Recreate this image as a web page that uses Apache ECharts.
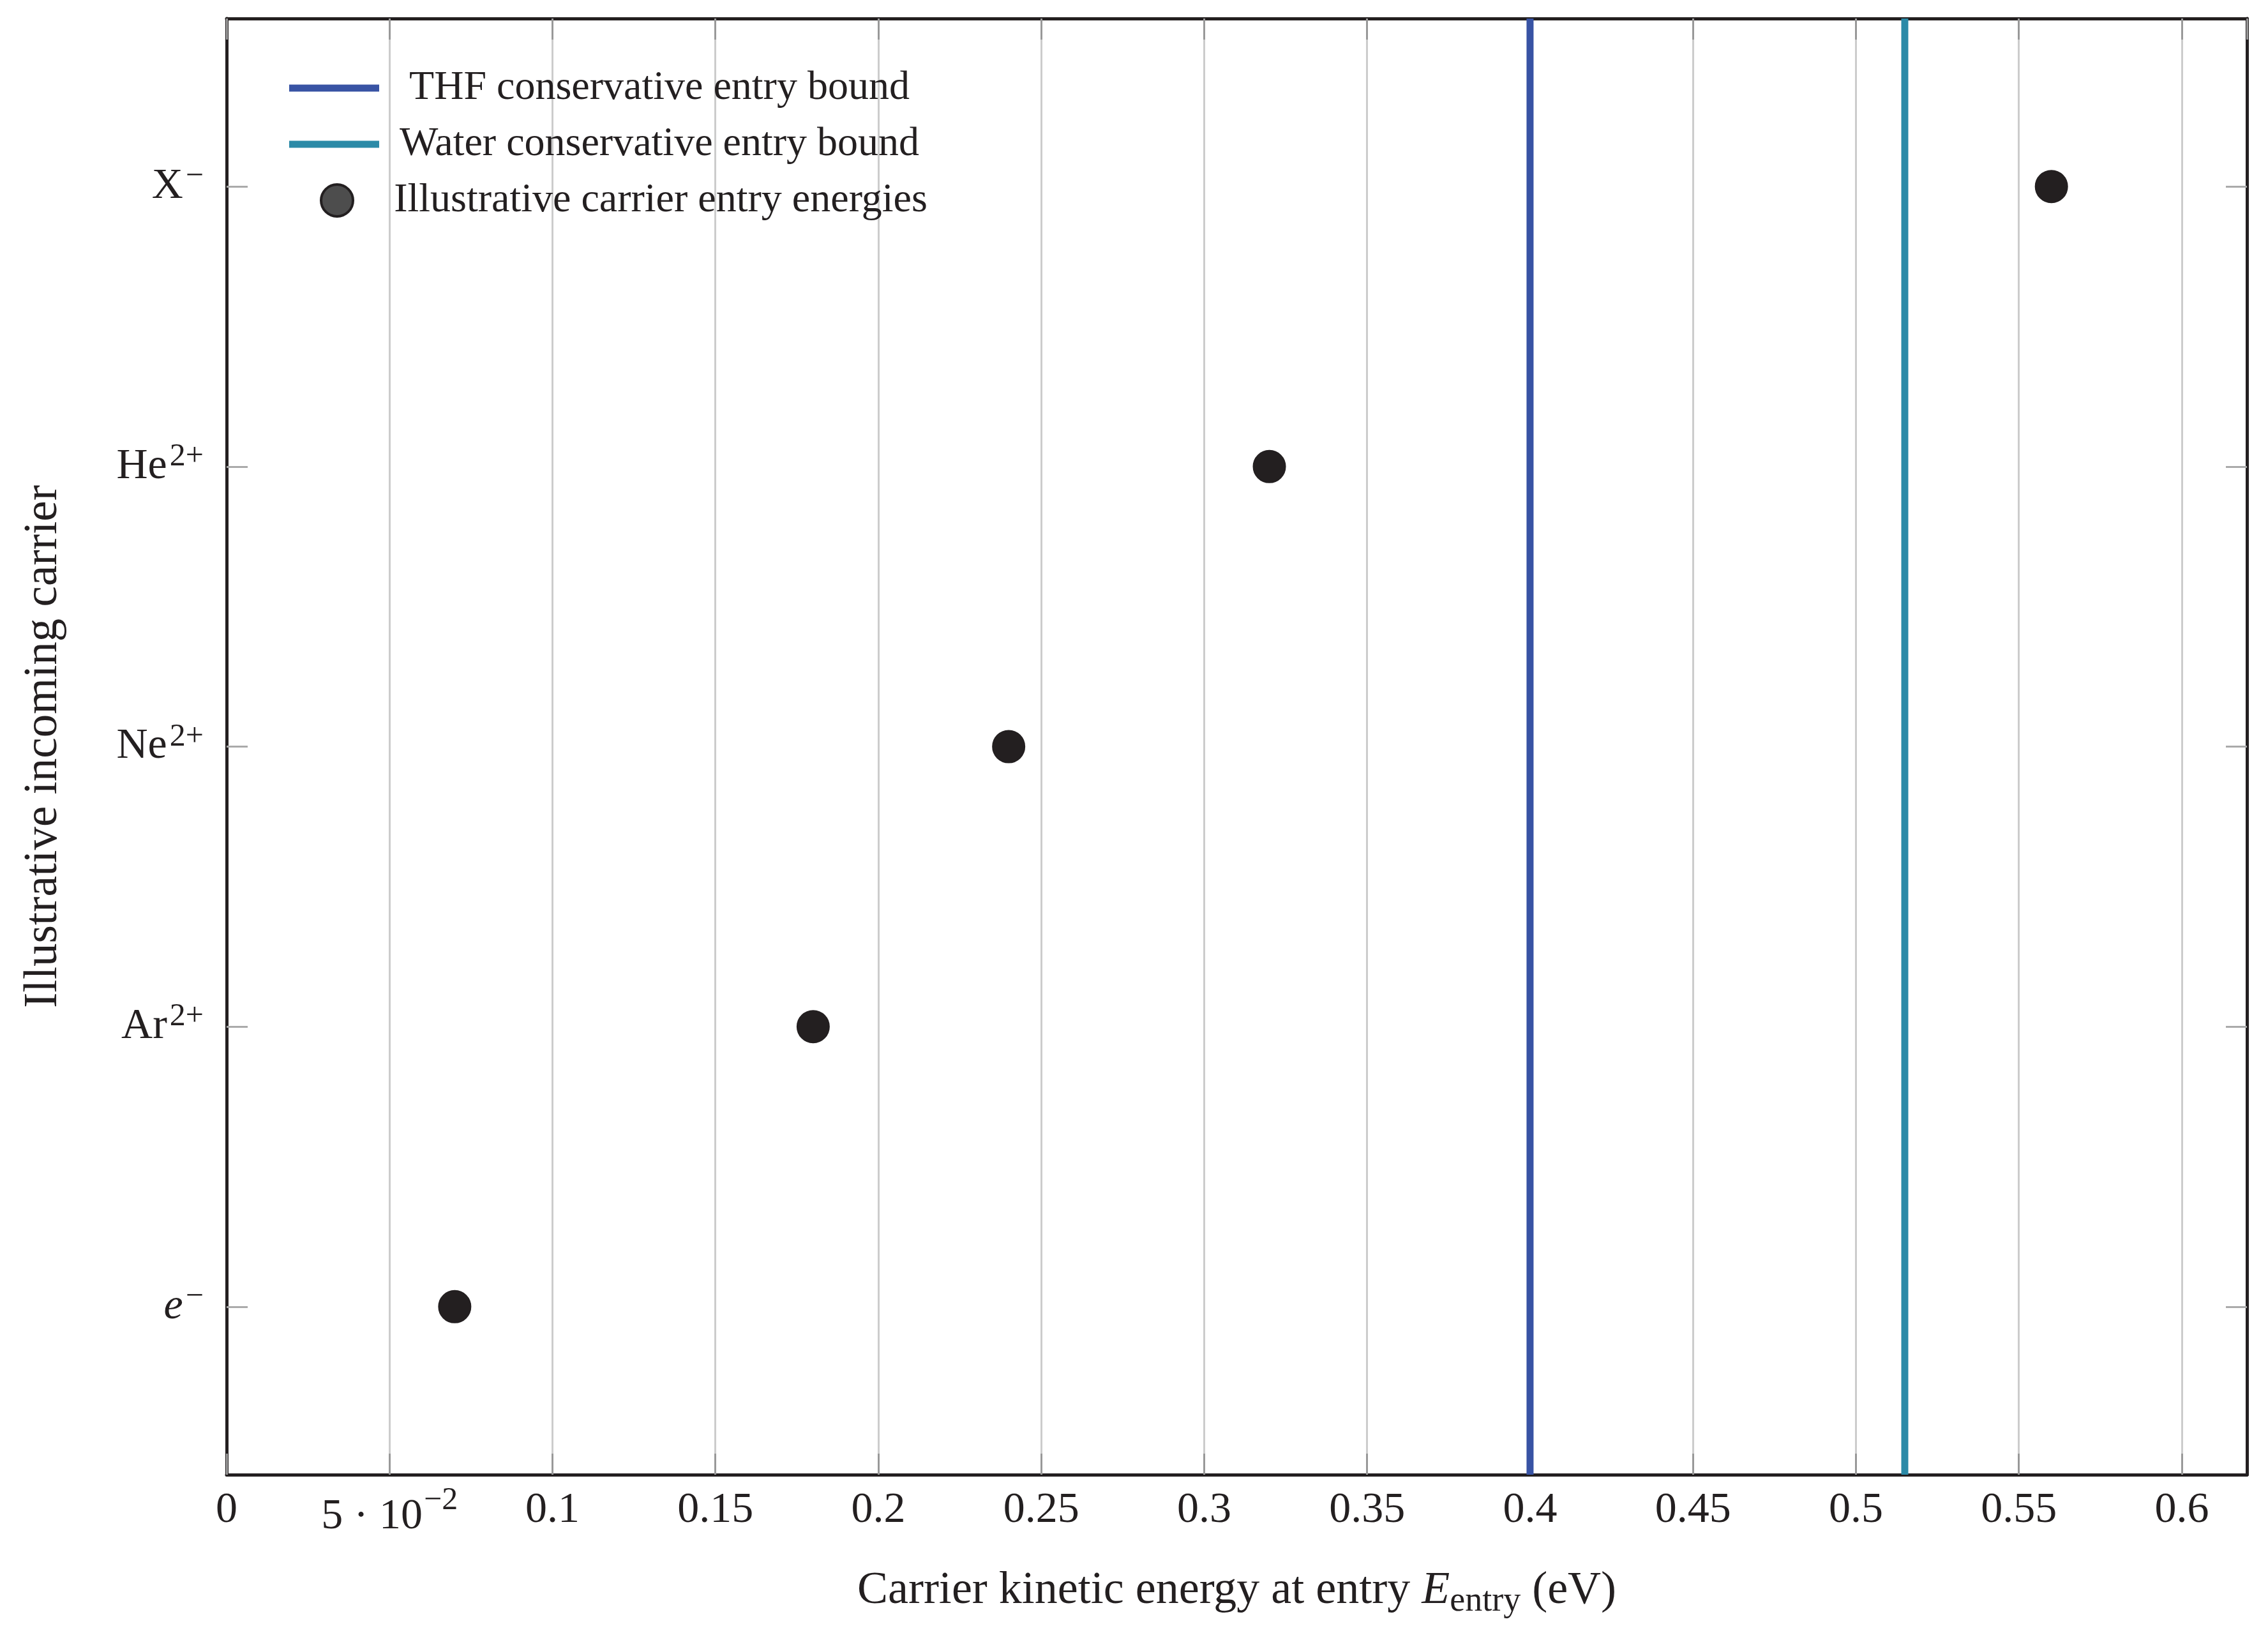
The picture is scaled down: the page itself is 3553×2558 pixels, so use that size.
<!DOCTYPE html>
<html>
<head>
<meta charset="utf-8">
<script src="https://cdn.jsdelivr.net/npm/echarts@6/dist/echarts.min.js"></script>
<style>
  html, body { margin: 0; padding: 0; background: #fff; }
  #main { width: 3553px; height: 2558px; }
</style>
</head>
<body>
<div id="main"></div>
<script>
// carriers from bottom to top
const carrierNames = ['e', 'Ar', 'Ne', 'He', 'X'];
const carrierCharge = ['−', '2+', '2+', '2+', '−'];
const carrierRow = [0, 1, 2, 3, 4];
const entryEnergy = [0.07, 0.18, 0.24, 0.32, 0.56];

const thfBound = 0.4;
const waterBound = 0.515;

const xMin = 0, xMax = 0.62, xStep = 0.05;
const yMin = -0.6, yMax = 4.6;

const ink = '#231f20';
const font = 'Liberation Serif';

function xLabel(v) {
    if (Math.abs(v - 0.05) < 1e-9) {
        return '{m|5 · 10}{t|−2}';
    }
    if (v > 0.6 + 1e-9) return '';
    return '{n|' + parseFloat(v.toFixed(2)) + '}';
}

function yLabel(v) {
    var i = carrierRow.indexOf(Math.round(v));
    if (i < 0) return '';
    var base = carrierNames[i] == 'e' ? '{i|e}' : '{n|' + carrierNames[i] + '}';
    return base + '{s|' + carrierCharge[i] + '}';
}

var labelRich = {
    n: { fontFamily: font, fontSize: 68, color: ink, lineHeight: 80 },
    i: { fontFamily: font, fontSize: 68, fontStyle: 'italic', color: ink, lineHeight: 80 },
    s: { fontFamily: font, fontSize: 50, color: ink, verticalAlign: 'top', lineHeight: 80, padding: [0, 0, 30, 4] },
    m: { fontFamily: font, fontSize: 68, color: ink, lineHeight: 80, padding: [20, 0, 0, 0] },
    t: { fontFamily: font, fontSize: 50, color: ink, verticalAlign: 'top', lineHeight: 80, padding: [0, 0, 14, 2] }
};

function legendBox(name, top, icon, left, symW, symH, textW, extra) {
    var item = { name: name, icon: icon };
    if (extra) item.itemStyle = extra;
    return {
        data: [item],
        left: left,
        top: top,
        padding: 0,
        itemWidth: symW,
        itemHeight: symH,
        selectedMode: false,
        formatter: '{c|{name}}',
        textStyle: {
            rich: {
                c: { fontFamily: font, fontSize: 64, color: ink, width: textW, align: 'center', lineHeight: 70 }
            }
        }
    };
}

var myChart = echarts.init(document.getElementById('main'));

var option = {
    animation: false,
    backgroundColor: '#fff',
    grid: { left: 355, right: 33, top: 29, bottom: 248, containLabel: false },
    legend: [
        legendBox('THF conservative entry bound', 106, 'rect', 453, 141, 11, 868),
        legendBox('Water conservative entry bound', 194, 'rect', 453, 141, 11, 868),
        legendBox('Illustrative carrier entry energies', 282, 'circle', 501, 50, 50, 954,
            { color: '#4d4d4d', borderColor: ink, borderWidth: 4 })
    ],
    xAxis: [
        {
            type: 'value',
            position: 'bottom',
            min: xMin, max: xMax, interval: xStep,
            name: '{n|Carrier kinetic energy at entry }{e|E}{b|entry}{n| (eV)}',
            nameLocation: 'middle',
            nameGap: 138,
            nameTextStyle: {
                rich: {
                    n: { fontFamily: font, fontSize: 72, color: ink, lineHeight: 88 },
                    e: { fontFamily: font, fontSize: 72, fontStyle: 'italic', color: ink, lineHeight: 88 },
                    b: { fontFamily: font, fontSize: 54, color: ink, verticalAlign: 'bottom', lineHeight: 88, padding: [24, 0, 0, 0] }
                }
            },
            axisLine: { show: true, onZero: false, lineStyle: { color: ink, width: 5 } },
            axisTick: { show: true, inside: true, length: 33, lineStyle: { color: '#999', width: 3 } },
            axisLabel: { margin: 16, formatter: xLabel, rich: labelRich, showMaxLabel: false },
            splitLine: { show: true, lineStyle: { color: '#cccccc', width: 3 } }
        },
        {
            type: 'value',
            position: 'top',
            min: xMin, max: xMax, interval: xStep,
            axisLine: { show: true, onZero: false, lineStyle: { color: ink, width: 5 } },
            axisTick: { show: true, inside: true, length: 33, lineStyle: { color: '#999', width: 3 } },
            axisLabel: { show: false },
            splitLine: { show: false }
        }
    ],
    yAxis: [
        {
            type: 'value',
            position: 'left',
            min: yMin, max: yMax,
            name: 'Illustrative incoming carrier',
            nameLocation: 'middle',
            nameGap: 250,
            nameTextStyle: { fontFamily: font, fontSize: 73, color: ink },
            axisLine: { show: true, onZero: false, lineStyle: { color: ink, width: 5 } },
            axisTick: { show: true, inside: true, length: 33, customValues: carrierRow, lineStyle: { color: '#aaa', width: 3 } },
            axisLabel: { margin: 36, customValues: carrierRow, formatter: yLabel, rich: labelRich },
            splitLine: { show: false }
        },
        {
            type: 'value',
            position: 'right',
            min: yMin, max: yMax,
            axisLine: { show: true, onZero: false, lineStyle: { color: ink, width: 5 } },
            axisTick: { show: true, inside: true, length: 33, customValues: carrierRow, lineStyle: { color: '#aaa', width: 3 } },
            axisLabel: { show: false },
            splitLine: { show: false }
        }
    ],
    series: [
        {
            name: 'THF conservative entry bound',
            type: 'line',
            showSymbol: false,
            data: [[thfBound, yMin], [thfBound, yMax]],
            itemStyle: { color: '#3853a4' },
            lineStyle: { color: '#3853a4', width: 11 },
            z: 3
        },
        {
            name: 'Water conservative entry bound',
            type: 'line',
            showSymbol: false,
            data: [[waterBound, yMin], [waterBound, yMax]],
            itemStyle: { color: '#2b8aa7' },
            lineStyle: { color: '#2b8aa7', width: 11 },
            z: 3
        },
        {
            name: 'Illustrative carrier entry energies',
            type: 'scatter',
            symbol: 'circle',
            symbolSize: 50,
            data: entryEnergy.map(function (e, i) { return [e, carrierRow[i]]; }),
            itemStyle: { color: ink, borderColor: ink, borderWidth: 2, opacity: 1 },
            z: 4
        }
    ]
};

myChart.setOption(option);
</script>
</body>
</html>
